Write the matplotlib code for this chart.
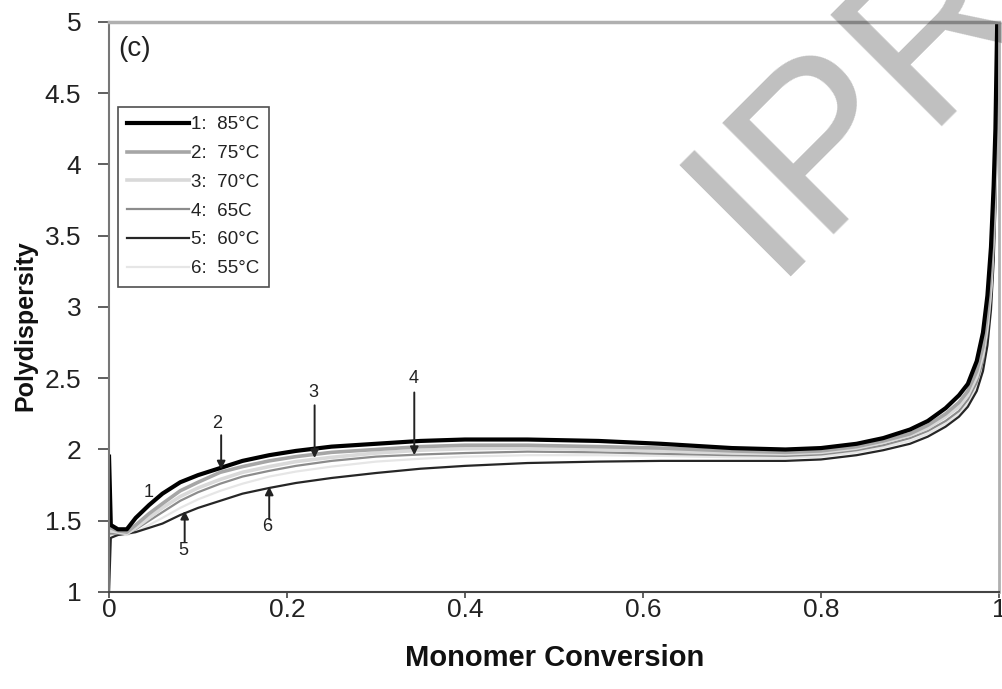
import numpy as np
import matplotlib
matplotlib.use('Agg')
import matplotlib.pyplot as plt

plt.rcParams['font.family'] = ['Liberation Sans', 'DejaVu Sans']

# monomer conversion grid shared by all curves
conv = [0.0, 0.002, 0.01, 0.02, 0.03, 0.045, 0.06, 0.08, 0.10, 0.125, 0.15,
        0.18, 0.21, 0.25, 0.30, 0.35, 0.40, 0.47, 0.55, 0.62, 0.70, 0.76,
        0.80, 0.84, 0.87, 0.90, 0.92, 0.94, 0.955, 0.965, 0.975, 0.982,
        0.987, 0.991, 0.994, 0.996, 0.998, 0.9995]

pdi_85 = [1.95, 1.47, 1.44, 1.44, 1.52, 1.61, 1.69, 1.77, 1.82, 1.87, 1.92,
          1.96, 1.99, 2.02, 2.04, 2.06, 2.07, 2.07, 2.06, 2.04, 2.01, 2.00,
          2.01, 2.04, 2.08, 2.14, 2.20, 2.29, 2.38, 2.46, 2.62, 2.82,
          3.08, 3.42, 3.85, 4.25, 5.00, 5.00]
pdi_75 = [1.45, 1.45, 1.43, 1.42, 1.47, 1.55, 1.62, 1.71, 1.77, 1.84, 1.88,
          1.92, 1.95, 1.98, 2.00, 2.02, 2.03, 2.03, 2.02, 2.01, 1.99, 1.98,
          1.99, 2.02, 2.06, 2.11, 2.17, 2.25, 2.33, 2.41, 2.55, 2.72,
          2.95, 3.25, 3.65, 4.05, 4.80, 5.00]
pdi_70 = [1.43, 1.43, 1.42, 1.41, 1.45, 1.52, 1.59, 1.67, 1.73, 1.79, 1.84,
          1.88, 1.915, 1.945, 1.975, 1.995, 2.005, 2.01, 2.00, 1.99, 1.975, 1.97,
          1.98, 2.01, 2.05, 2.10, 2.15, 2.23, 2.30, 2.38, 2.51, 2.67,
          2.88, 3.15, 3.55, 3.95, 4.70, 5.00]
pdi_65 = [1.41, 1.41, 1.41, 1.41, 1.44, 1.50, 1.56, 1.64, 1.70, 1.76, 1.81,
          1.85, 1.885, 1.92, 1.95, 1.965, 1.975, 1.985, 1.98, 1.97, 1.96, 1.955,
          1.965, 1.995, 2.03, 2.08, 2.13, 2.20, 2.27, 2.35, 2.47, 2.62,
          2.82, 3.08, 3.45, 3.85, 4.60, 5.00]
pdi_60 = [1.00, 1.38, 1.40, 1.41, 1.42, 1.45, 1.48, 1.54, 1.59, 1.64, 1.69,
          1.73, 1.765, 1.80, 1.835, 1.865, 1.885, 1.905, 1.915, 1.92, 1.92, 1.92,
          1.93, 1.96, 1.995, 2.04, 2.09, 2.16, 2.23, 2.30, 2.41, 2.55,
          2.73, 2.98, 3.32, 3.70, 4.40, 5.00]
pdi_55 = [1.40, 1.40, 1.40, 1.40, 1.42, 1.47, 1.52, 1.59, 1.65, 1.71, 1.76,
          1.81, 1.845, 1.88, 1.915, 1.935, 1.95, 1.96, 1.96, 1.955, 1.945, 1.94,
          1.95, 1.98, 2.015, 2.06, 2.11, 2.18, 2.25, 2.32, 2.44, 2.58,
          2.77, 3.02, 3.38, 3.75, 4.50, 5.00]

labels = ['1:  85°C', '2:  75°C', '3:  70°C', '4:  65C', '5:  60°C', '6:  55°C']
series = [pdi_85, pdi_75, pdi_70, pdi_65, pdi_60, pdi_55]
colors = ['#000000', '#a6a6a6', '#d9d9d9', '#8c8c8c', '#262626', '#e6e6e6']
widths = [3.0, 2.6, 2.6, 1.6, 1.6, 1.6]

# curve number annotations: (label, text xy, arrow tail, arrow head)
ann_text = ['1', '2', '3', '4', '5', '6']
ann_xy = [(0.044, 1.70), (0.121, 2.18), (0.230, 2.40), (0.342, 2.50),
          (0.084, 1.29), (0.178, 1.46)]
arrow_from = [None, (0.126, 2.10), (0.231, 2.31), (0.343, 2.40),
              (0.085, 1.35), (0.180, 1.51)]
arrow_to = [None, (0.126, 1.86), (0.231, 1.94), (0.343, 1.96),
            (0.085, 1.57), (0.180, 1.74)]

fig = plt.figure(figsize=(10.03, 6.89), dpi=100)
ax = fig.add_axes([0.1087, 0.1408, 0.8873, 0.8273])

draw_order = [5, 4, 3, 2, 1, 0]
lines = {}
for i in draw_order:
    ln, = ax.plot(conv, series[i], color=colors[i], lw=widths[i],
                  label=labels[i], solid_joinstyle='round')
    lines[i] = ln

for t, xy, a0, a1 in zip(ann_text, ann_xy, arrow_from, arrow_to):
    ax.text(xy[0], xy[1], t, fontsize=13, ha='center', va='center', color='#222222')
    if a0 is not None:
        ax.annotate('', xy=a1, xytext=a0,
                    arrowprops=dict(arrowstyle='-|>', color='#222222', lw=1.4,
                                    mutation_scale=12, shrinkA=0, shrinkB=0))

ax.set_xlim(0, 1)
ax.set_ylim(1, 5)
ax.set_xticks([0, 0.2, 0.4, 0.6, 0.8, 1])
ax.set_xticklabels(['0', '0.2', '0.4', '0.6', '0.8', '1'])
ax.set_yticks([1, 1.5, 2, 2.5, 3, 3.5, 4, 4.5, 5])
ax.set_yticklabels(['1', '1.5', '2', '2.5', '3', '3.5', '4', '4.5', '5'])
ax.tick_params(axis='x', direction='out', length=4, width=1.2, pad=0.5,
               labelsize=19, colors='#444444', labelcolor='#222222')
ax.tick_params(axis='y', direction='out', length=8, width=1.2, pad=12,
               labelsize=19, colors='#444444', labelcolor='#222222')

ax.spines['left'].set_color('#777777')
ax.spines['left'].set_linewidth(1.5)
ax.spines['bottom'].set_color('#444444')
ax.spines['bottom'].set_linewidth(1.5)
ax.spines['top'].set_color('#b0b0b0')
ax.spines['top'].set_linewidth(2.5)
ax.spines['right'].set_color('#b0b0b0')
ax.spines['right'].set_linewidth(2.0)

ax.set_xlabel('Monomer Conversion', fontsize=21, fontweight='bold', color='#111111')
ax.set_ylabel('Polydispersity', fontsize=18, fontweight='bold', color='#111111')
ax.xaxis.set_label_coords(0.501, -0.092)
ax.yaxis.set_label_coords(-0.08, 0.468)

ax.text(0.010, 0.975, '(c)', transform=ax.transAxes, fontsize=20,
        ha='left', va='top', color='#222222')

handles = [lines[i] for i in range(6)]
leg = ax.legend(handles, labels, loc='upper left', bbox_to_anchor=(0.010, 0.851),
                borderaxespad=0, fontsize=13.5, frameon=True, fancybox=False,
                handlelength=3.3, handletextpad=0.1, labelspacing=0.62,
                borderpad=0.5, labelcolor='#222222')
leg.get_frame().set_edgecolor('#222222')
leg.get_frame().set_linewidth(1.2)

# watermark
fig.text(0.768, 0.598, 'IPR', fontsize=165, color='black', alpha=0.25,
         rotation=45, rotation_mode='anchor', ha='left', va='baseline')

fig.savefig('out.png', dpi=100)
